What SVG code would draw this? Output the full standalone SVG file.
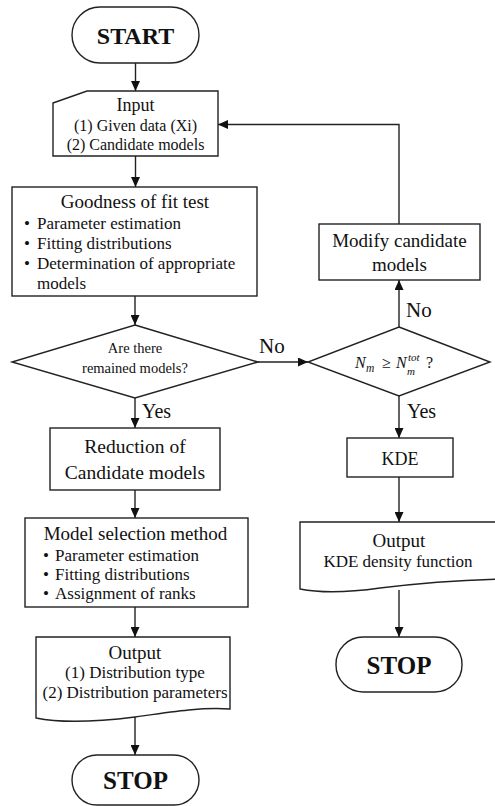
<svg xmlns="http://www.w3.org/2000/svg" width="495" height="806" viewBox="0 0 495 806" font-family="'Liberation Serif','Times New Roman',serif">
<style>
.s{fill:#fff;stroke:#222;stroke-width:1.4}
.c{fill:none;stroke:#222;stroke-width:1.4}
text{font-family:"Liberation Serif","Times New Roman",serif;fill:#111}
.m{text-anchor:middle}
.b{font-weight:bold}
.i{font-style:italic}
</style>
<defs>
<marker id="ah" markerUnits="userSpaceOnUse" markerWidth="10" markerHeight="9" refX="10" refY="4.5" orient="auto">
<path d="M0,0 L10,4.5 L0,9 z" fill="#111"/>
</marker>
</defs>
<g id="start">
<rect class="s" x="72" y="7" width="127" height="56" rx="28"/>
<text class="m b" x="135.5" y="44" font-size="24">START</text>
</g>
<g id="input">
<path class="s" d="M53,103 L87,91 L218,91 L218,156 L53,156 Z"/>
<text class="m" x="135.5" y="111" font-size="18">Input</text>
<text class="m" x="135.5" y="131" font-size="16">(1) Given data (Xi)</text>
<text class="m" x="135.5" y="150" font-size="16">(2) Candidate models</text>
</g>
<g id="goodness">
<rect class="s" x="12" y="187" width="245" height="109"/>
<text class="m" x="135" y="208" font-size="19">Goodness of fit test</text>
<text x="24" y="229" font-size="17">•</text><text x="37" y="229" font-size="17">Parameter estimation</text>
<text x="24" y="249" font-size="17">•</text><text x="37" y="249" font-size="17">Fitting distributions</text>
<text x="24" y="269" font-size="17">•</text><text x="37" y="269" font-size="17">Determination of appropriate</text>
<text x="37" y="289" font-size="17">models</text>
</g>
<g id="decision1">
<path class="s" d="M135,325 L258,362 L135,398 L12,362 Z"/>
<text class="m" x="135" y="353" font-size="14.5">Are there</text>
<text class="m" x="135" y="373" font-size="14.5">remained models?</text>
</g>
<g id="reduction">
<rect class="s" x="50" y="428" width="170" height="62"/>
<text class="m" x="135" y="453" font-size="19.5">Reduction of</text>
<text class="m" x="135" y="479" font-size="19.5">Candidate models</text>
</g>
<g id="modelsel">
<rect class="s" x="25" y="518" width="223" height="89"/>
<text class="m" x="135.5" y="540" font-size="19">Model selection method</text>
<text x="43" y="561" font-size="17">•</text><text x="55" y="561" font-size="17">Parameter estimation</text>
<text x="43" y="580" font-size="17">•</text><text x="55" y="580" font-size="17">Fitting distributions</text>
<text x="43" y="599" font-size="17">•</text><text x="55" y="599" font-size="17">Assignment of ranks</text>
</g>
<g id="output1">
<path class="s" d="M36,637 L230,637 L230,709 C200,707 170,712 135,717 C95,722 60,723 36,718 Z"/>
<text class="m" x="135" y="659" font-size="19">Output</text>
<text class="m" x="135" y="678" font-size="17">(1) Distribution type</text>
<text class="m" x="135" y="698" font-size="17">(2) Distribution parameters</text>
</g>
<g id="stop1">
<rect class="s" x="72" y="755" width="127" height="50" rx="25"/>
<text class="m b" x="135.5" y="789" font-size="25">STOP</text>
</g>
<g id="decision2">
<path class="s" d="M399,327 L490,362 L399,396 L308,362 Z"/>
<text font-size="16"><tspan class="i" x="355" y="368">N</tspan><tspan class="i" x="366" y="372" font-size="11.5">m</tspan><tspan x="382" y="368">≥</tspan><tspan class="i" x="396" y="368">N</tspan></text>
<text class="i" x="408" y="361" font-size="11">tot</text>
<text class="i" x="407" y="375" font-size="11">m</text>
<text x="426" y="368" font-size="16">?</text>
</g>
<g id="modify">
<rect class="s" x="319" y="224" width="161" height="56"/>
<text class="m" x="399.5" y="247" font-size="19">Modify candidate</text>
<text class="m" x="399.5" y="271" font-size="19">models</text>
</g>
<g id="kde">
<rect class="s" x="347" y="438" width="106" height="39"/>
<text class="m" x="400" y="465" font-size="18">KDE</text>
</g>
<g id="output2">
<path class="s" d="M300,522 L502,522 L502,579 C460,580 420,583 380,588 C345,593 320,593 300,589 Z"/>
<text class="m" x="399" y="547" font-size="19">Output</text>
<text class="m" x="398" y="567" font-size="17">KDE density function</text>
</g>
<g id="stop2">
<rect class="s" x="336" y="637" width="126" height="55" rx="27"/>
<text class="m b" x="399" y="674" font-size="25">STOP</text>
</g>
<g id="connectors">
<path class="c" d="M135.5,63 V91" marker-end="url(#ah)"/>
<path class="c" d="M135.5,156 V187" marker-end="url(#ah)"/>
<path class="c" d="M135,296 V325" marker-end="url(#ah)"/>
<path class="c" d="M135,398 V428" marker-end="url(#ah)"/>
<path class="c" d="M135,490 V518" marker-end="url(#ah)"/>
<path class="c" d="M135,607 V637" marker-end="url(#ah)"/>
<path class="c" d="M135,717 V755" marker-end="url(#ah)"/>
<path class="c" d="M258,362 H308" marker-end="url(#ah)"/>
<path class="c" d="M399,327 V280" marker-end="url(#ah)"/>
<path class="c" d="M399,224 V124.5 H218" marker-end="url(#ah)"/>
<path class="c" d="M399,396 V438" marker-end="url(#ah)"/>
<path class="c" d="M399,477 V522" marker-end="url(#ah)"/>
<path class="c" d="M399,590 V637" marker-end="url(#ah)"/>
<text x="142" y="418" font-size="20">Yes</text>
<text x="259" y="353" font-size="21">No</text>
<text x="406" y="317" font-size="21">No</text>
<text x="407" y="418" font-size="20">Yes</text>
</g>
</svg>
